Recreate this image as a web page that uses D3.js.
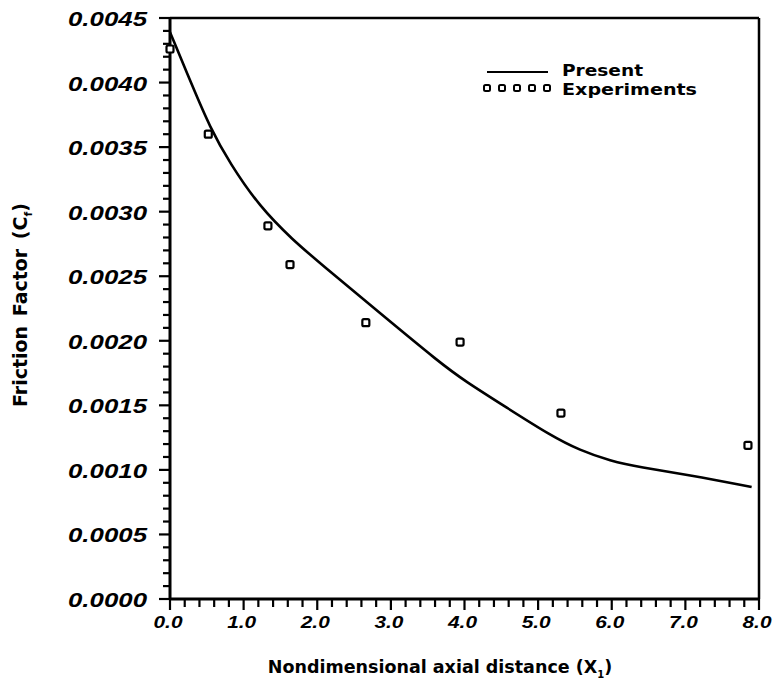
<!DOCTYPE html>
<html><head><meta charset="utf-8">
<script src="https://cdn.jsdelivr.net/npm/d3@7"></script>
<style>body{margin:0;background:#fff;} svg{display:block;}</style>
</head><body>
<script>
const curveX = [0, 0.31, 0.54, 0.81, 1.22, 1.67, 2.04, 2.85, 3.67, 4.0, 4.58, 5.16, 5.57, 5.98, 6.38, 7.06, 7.9];
const curveY = [0.00439, 0.003965, 0.003656, 0.003377, 0.003036, 0.00278, 0.0026, 0.002215, 0.001828, 0.00169, 0.00148, 0.00127, 0.00115, 0.00107, 0.00102, 0.00096, 0.000867];
const expX = [0.0, 0.52, 1.33, 1.63, 2.66, 3.94, 5.31, 7.85];
const expY = [0.00426, 0.0036, 0.00289, 0.00259, 0.00214, 0.00199, 0.00144, 0.00119];
const xTicks = [0,1,2,3,4,5,6,7,8];
const xTickLabels = ["0.0","1.0","2.0","3.0","4.0","5.0","6.0","7.0","8.0"];
const yTicks = [0,0.0005,0.001,0.0015,0.002,0.0025,0.003,0.0035,0.004,0.0045];
const yTickLabels = ["0.0000","0.0005","0.0010","0.0015","0.0020","0.0025","0.0030","0.0035","0.0040","0.0045"];
const legendLabels = ["Present","Experiments"];

const W=774,H=683;
const svg=d3.select("body").append("svg").attr("width",W).attr("height",H);
const x=d3.scaleLinear().domain([0,8]).range([170,759]);
const y=d3.scaleLinear().domain([0,0.0045]).range([599,18]);

// frame top/right
svg.append("line").attr("x1",170).attr("x2",759).attr("y1",18).attr("y2",18).attr("stroke","#000").attr("stroke-width",2.5);
svg.append("line").attr("x1",759).attr("x2",759).attr("y1",18).attr("y2",599).attr("stroke","#000").attr("stroke-width",2.5);

// ticks
const gx=svg.append("g");
d3.range(0,8.0001,0.2).forEach(v=>{
  const major=Math.abs(v-Math.round(v))<1e-6;
  gx.append("line").attr("x1",x(v)).attr("x2",x(v)).attr("y1",599).attr("y2",major?610:607).attr("stroke","#000").attr("stroke-width",2.2);
});
const gy=svg.append("g");
d3.range(0,0.0045001,0.0001).forEach(v=>{
  const major=Math.abs(v/0.0005-Math.round(v/0.0005))<1e-6;
  gy.append("line").attr("x1",major?159:163).attr("x2",170).attr("y1",y(v)).attr("y2",y(v)).attr("stroke","#000").attr("stroke-width",2.2);
});
// axis lines
svg.append("line").attr("x1",170).attr("x2",759).attr("y1",599).attr("y2",599).attr("stroke","#000").attr("stroke-width",3);
svg.append("line").attr("x1",170).attr("x2",170).attr("y1",18).attr("y2",599).attr("stroke","#000").attr("stroke-width",3);

// tick labels
const tf="Liberation Sans, Arial, sans-serif";
xTicks.forEach((v,i)=>{
  svg.append("text").attr("x",x(v)-2).attr("y",628).attr("text-anchor","middle")
   .attr("font-family",tf).attr("font-weight","bold").attr("font-style","italic")
   .attr("font-size",16).attr("textLength",29).attr("lengthAdjust","spacingAndGlyphs").text(xTickLabels[i]);
});
yTicks.forEach((v,i)=>{
  svg.append("text").attr("x",147).attr("y",y(v)+8).attr("text-anchor","end")
   .attr("font-family",tf).attr("font-weight","bold").attr("font-style","italic")
   .attr("font-size",21).attr("textLength",79).attr("lengthAdjust","spacingAndGlyphs").text(yTickLabels[i]);
});

// curve
const line=d3.line().x(d=>x(d[0])).y(d=>y(d[1])).curve(d3.curveBasis);
svg.append("path").datum(curveX.map((v,i)=>[v,curveY[i]])).attr("d",line)
  .attr("fill","none").attr("stroke","#000").attr("stroke-width",2.6);

// experiments
const s=7;
svg.selectAll("rect.exp").data(expX.map((v,i)=>[v,expY[i]])).enter().append("rect")
  .attr("x",d=>x(d[0])-s/2).attr("y",d=>y(d[1])-s/2).attr("width",s).attr("height",s)
  .attr("rx",1.5).attr("fill","#fff").attr("stroke","#000").attr("stroke-width",2.2);

// legend
svg.append("line").attr("x1",487).attr("x2",548).attr("y1",72).attr("y2",72).attr("stroke","#000").attr("stroke-width",2.2);
[0,1,2,3,4].forEach(k=>{
  svg.append("rect").attr("x",487+k*15-3).attr("y",85).attr("width",6).attr("height",6).attr("rx",1.5)
   .attr("fill","#fff").attr("stroke","#000").attr("stroke-width",2);
});
const lf="DejaVu Sans, Verdana, sans-serif";
svg.append("text").attr("x",562).attr("y",76).attr("font-family",lf).attr("font-size",16).attr("font-weight","bold")
  .attr("textLength",81).attr("lengthAdjust","spacingAndGlyphs").text(legendLabels[0]);
svg.append("text").attr("x",562).attr("y",95).attr("font-family",lf).attr("font-size",16).attr("font-weight","bold")
  .attr("textLength",135).attr("lengthAdjust","spacingAndGlyphs").text(legendLabels[1]);

// axis titles
const xt=svg.append("text").attr("x",440).attr("y",673).attr("text-anchor","middle").attr("font-family",lf).attr("font-size",17.5).attr("font-weight","bold");
xt.append("tspan").text("Nondimensional axial distance (X");
xt.append("tspan").attr("font-size",10).attr("dy",5).text("1");
xt.append("tspan").attr("dy",-5).text(")");

const yt=svg.append("text").attr("transform","translate(27,305) rotate(-90)").attr("text-anchor","middle").attr("font-family",lf).attr("font-size",19).attr("font-weight","bold").attr("word-spacing",3);
yt.append("tspan").text("Friction  Factor  (C");
yt.append("tspan").attr("font-size",11).attr("dy",5).text("f");
yt.append("tspan").attr("dy",-5).text(")");
</script>
</body></html>
